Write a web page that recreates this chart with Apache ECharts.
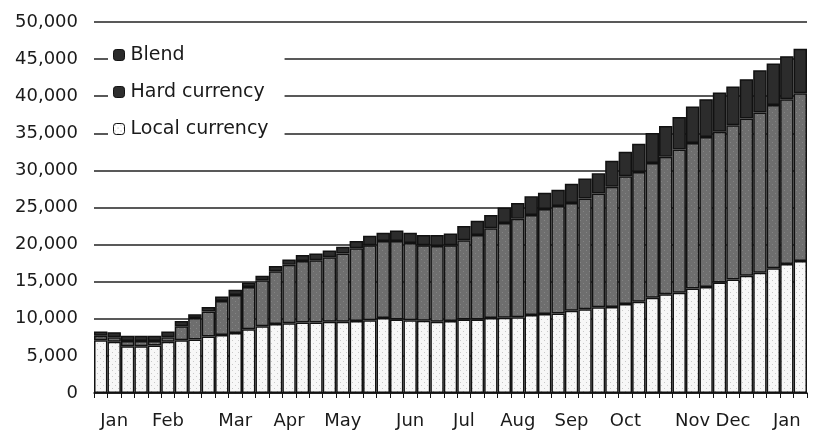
<!DOCTYPE html>
<html><head><meta charset="utf-8">
<script src="https://cdn.jsdelivr.net/npm/echarts@6/dist/echarts.min.js"></script>
<style>html,body{margin:0;padding:0;background:#fff}#c{width:816px;height:433px}</style>
</head><body><div id="c"></div>
<script>
// 53 weekly observations
const weeks = ['w01','w02','w03','w04','w05','w06','w07','w08','w09','w10','w11','w12','w13','w14','w15','w16','w17','w18','w19','w20','w21','w22','w23','w24','w25','w26','w27','w28','w29','w30','w31','w32','w33','w34','w35','w36','w37','w38','w39','w40','w41','w42','w43','w44','w45','w46','w47','w48','w49','w50','w51','w52','w53'];
// month tick labels and the week they sit under
const monthLabels = ['Jan','Feb','Mar','Apr','May','Jun','Jul','Aug','Sep','Oct','Nov','Dec','Jan'];
const monthWeekIndex = [1,5,10,14,18,23,27,31,35,39,44,47,51];

const localCurrency = [7100,6900,6300,6300,6400,6900,7100,7200,7600,7800,8100,8600,9000,9300,9400,9500,9500,9600,9600,9700,9800,10100,9900,9800,9750,9600,9700,9900,9900,10100,10150,10200,10500,10650,10700,11100,11300,11550,11600,12000,12300,12850,13300,13500,14100,14300,14900,15300,15800,16200,16800,17400,17800];
const hardCurrency = [600,600,700,700,600,600,1900,2900,3400,4600,5100,5700,6200,7100,7900,8300,8400,8700,9200,9800,10100,10400,10600,10400,10150,10200,10200,10700,11400,12100,12750,13300,13500,14150,14500,14500,14900,15350,16200,17200,17500,18150,18550,19300,19600,20200,20300,20800,21200,21600,22000,22200,22600];
const blend = [600,700,700,700,700,800,700,500,600,600,700,600,600,700,700,800,900,900,900,1000,1300,1100,1400,1400,1400,1500,1600,1900,1900,1800,2100,2100,2500,2200,2200,2600,2700,2700,3500,3300,3800,4050,4150,4400,4900,5100,5300,5200,5300,5700,5600,5800,6000];

const yMax = 50000, yStep = 5000;

function pattern(bg, dot) {
  const c = document.createElement('canvas');
  c.width = 6; c.height = 6;
  const g = c.getContext('2d');
  g.fillStyle = bg; g.fillRect(0, 0, 6, 6);
  g.fillStyle = dot; g.fillRect(1, 1, 1, 1); g.fillRect(4, 4, 1, 1);
  return { image: c, repeat: 'repeat' };
}

const FONT = 'DejaVu Sans';
const chart = echarts.init(document.getElementById('c'), null, { renderer: 'canvas' });
const labelMap = {};
monthWeekIndex.forEach((w, i) => { labelMap[w] = monthLabels[i]; });

const border = { borderColor: '#111', borderWidth: 1.5 };
chart.setOption({
  animation: false,
  backgroundColor: '#fff',
  grid: { left: 94, right: 9, top: 22, bottom: 40 },
  legend: {
    orient: 'vertical', left: 108, top: 41,
    backgroundColor: '#fff',
    padding: [4, 16, 4, 5],
    itemWidth: 11, itemHeight: 11, itemGap: 17,
    textStyle: { fontFamily: FONT, fontSize: 19, color: '#1a1a1a', lineHeight: 20, padding: [0, 0, 0, 1] },
    data: [
      { name: 'Blend', itemStyle: { color: '#2a2a2a', borderColor: '#111', borderWidth: 1 } },
      { name: 'Hard currency', itemStyle: { color: '#2e2e2e', borderColor: '#111', borderWidth: 1 } },
      { name: 'Local currency', itemStyle: { color: pattern('#ffffff', '#999'), borderColor: '#111', borderWidth: 1 } }
    ]
  },
  xAxis: {
    type: 'category', data: weeks, boundaryGap: true,
    axisLine: { lineStyle: { color: '#111', width: 1.5 } },
    axisTick: { show: true, interval: 0, length: 5, lineStyle: { color: '#111', width: 1 } },
    axisLabel: {
      interval: 0, margin: 19, fontFamily: FONT, fontSize: 18, color: '#1a1a1a',
      formatter: (v, i) => labelMap[i] || ''
    },
    splitLine: { show: false }
  },
  yAxis: {
    type: 'value', min: 0, max: yMax, interval: yStep,
    axisLine: { show: false }, axisTick: { show: false },
    axisLabel: { margin: 16, fontFamily: FONT, fontSize: 18, color: '#1a1a1a',
      formatter: v => v.toLocaleString('en-US') },
    splitLine: { lineStyle: { color: '#222', width: 1.5 } }
  },
  series: [
    { name: 'Local currency', type: 'bar', stack: 'total', data: localCurrency, barCategoryGap: '0%',
      itemStyle: Object.assign({ color: pattern('#f7f7f7', '#c8c8c8') }, border) },
    { name: 'Hard currency', type: 'bar', stack: 'total', data: hardCurrency, barCategoryGap: '0%',
      itemStyle: Object.assign({ color: pattern('#6e6e6e', '#858585') }, border) },
    { name: 'Blend', type: 'bar', stack: 'total', data: blend, barCategoryGap: '0%',
      itemStyle: Object.assign({ color: '#2c2c2c' }, border) }
  ]
});
</script></body></html>
